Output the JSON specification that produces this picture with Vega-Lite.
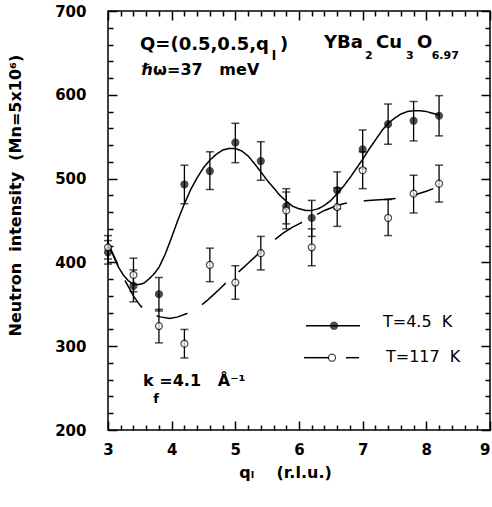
{
  "$schema": "https://vega.github.io/schema/vega-lite/v6.json",
  "width": 382,
  "height": 419,
  "autosize": {"type": "none"},
  "padding": {"left": 108, "top": 11, "right": 2, "bottom": 77},
  "background": "white",
  "config": {
    "font": "DejaVu Sans",
    "view": {"stroke": "black", "strokeWidth": 1.5},
    "axis": {"grid": false, "domain": false, "labelColor": "black", "tickColor": "black", "titleColor": "black"}
  },
  "datasets": {
    "pts": [
      {"q": 3.0, "I": 412, "lo": 398, "hi": 426, "T": "T=4.5 K"},
      {"q": 3.4, "I": 372, "lo": 353, "hi": 391, "T": "T=4.5 K"},
      {"q": 3.8, "I": 362, "lo": 342, "hi": 382, "T": "T=4.5 K"},
      {"q": 4.2, "I": 493, "lo": 470, "hi": 516, "T": "T=4.5 K"},
      {"q": 4.6, "I": 509, "lo": 487, "hi": 532, "T": "T=4.5 K"},
      {"q": 5.0, "I": 543, "lo": 519, "hi": 566, "T": "T=4.5 K"},
      {"q": 5.4, "I": 521, "lo": 498, "hi": 544, "T": "T=4.5 K"},
      {"q": 5.8, "I": 467, "lo": 446, "hi": 488, "T": "T=4.5 K"},
      {"q": 6.2, "I": 453, "lo": 431, "hi": 474, "T": "T=4.5 K"},
      {"q": 6.6, "I": 486, "lo": 464, "hi": 508, "T": "T=4.5 K"},
      {"q": 7.0, "I": 535, "lo": 512, "hi": 558, "T": "T=4.5 K"},
      {"q": 7.4, "I": 565, "lo": 541, "hi": 589, "T": "T=4.5 K"},
      {"q": 7.8, "I": 569, "lo": 545, "hi": 592, "T": "T=4.5 K"},
      {"q": 8.2, "I": 575, "lo": 551, "hi": 599, "T": "T=4.5 K"},
      {"q": 3.0, "I": 418, "lo": 404, "hi": 432, "T": "T=117 K"},
      {"q": 3.4, "I": 385, "lo": 365, "hi": 405, "T": "T=117 K"},
      {"q": 3.8, "I": 324, "lo": 304, "hi": 344, "T": "T=117 K"},
      {"q": 4.2, "I": 303, "lo": 286, "hi": 320, "T": "T=117 K"},
      {"q": 4.6, "I": 397, "lo": 377, "hi": 417, "T": "T=117 K"},
      {"q": 5.0, "I": 376, "lo": 356, "hi": 396, "T": "T=117 K"},
      {"q": 5.4, "I": 411, "lo": 391, "hi": 431, "T": "T=117 K"},
      {"q": 5.8, "I": 462, "lo": 440, "hi": 484, "T": "T=117 K"},
      {"q": 6.2, "I": 418, "lo": 396, "hi": 440, "T": "T=117 K"},
      {"q": 6.6, "I": 466, "lo": 443, "hi": 489, "T": "T=117 K"},
      {"q": 7.0, "I": 510, "lo": 488, "hi": 532, "T": "T=117 K"},
      {"q": 7.4, "I": 453, "lo": 432, "hi": 475, "T": "T=117 K"},
      {"q": 7.8, "I": 482, "lo": 459, "hi": 504, "T": "T=117 K"},
      {"q": 8.2, "I": 494, "lo": 472, "hi": 516, "T": "T=117 K"}
    ],
    "curve": [
      {"q": 3.0, "I": 422, "T": "T=4.5 K"},
      {"q": 3.05, "I": 414, "T": "T=4.5 K"},
      {"q": 3.1, "I": 405, "T": "T=4.5 K"},
      {"q": 3.16, "I": 395, "T": "T=4.5 K"},
      {"q": 3.24, "I": 385, "T": "T=4.5 K"},
      {"q": 3.32, "I": 378, "T": "T=4.5 K"},
      {"q": 3.4, "I": 374, "T": "T=4.5 K"},
      {"q": 3.48, "I": 373.5, "T": "T=4.5 K"},
      {"q": 3.56, "I": 375, "T": "T=4.5 K"},
      {"q": 3.64, "I": 380, "T": "T=4.5 K"},
      {"q": 3.72, "I": 386, "T": "T=4.5 K"},
      {"q": 3.8, "I": 394, "T": "T=4.5 K"},
      {"q": 3.9, "I": 410, "T": "T=4.5 K"},
      {"q": 4.0, "I": 430, "T": "T=4.5 K"},
      {"q": 4.1, "I": 451, "T": "T=4.5 K"},
      {"q": 4.2, "I": 470, "T": "T=4.5 K"},
      {"q": 4.3, "I": 487, "T": "T=4.5 K"},
      {"q": 4.4, "I": 501, "T": "T=4.5 K"},
      {"q": 4.5, "I": 513, "T": "T=4.5 K"},
      {"q": 4.6, "I": 522, "T": "T=4.5 K"},
      {"q": 4.7, "I": 529, "T": "T=4.5 K"},
      {"q": 4.8, "I": 534, "T": "T=4.5 K"},
      {"q": 4.9, "I": 536, "T": "T=4.5 K"},
      {"q": 5.0, "I": 536, "T": "T=4.5 K"},
      {"q": 5.1, "I": 533, "T": "T=4.5 K"},
      {"q": 5.2, "I": 527, "T": "T=4.5 K"},
      {"q": 5.3, "I": 518, "T": "T=4.5 K"},
      {"q": 5.4, "I": 508, "T": "T=4.5 K"},
      {"q": 5.5, "I": 498, "T": "T=4.5 K"},
      {"q": 5.6, "I": 489, "T": "T=4.5 K"},
      {"q": 5.7, "I": 480, "T": "T=4.5 K"},
      {"q": 5.8, "I": 473, "T": "T=4.5 K"},
      {"q": 5.9, "I": 467, "T": "T=4.5 K"},
      {"q": 6.0, "I": 464, "T": "T=4.5 K"},
      {"q": 6.1, "I": 462, "T": "T=4.5 K"},
      {"q": 6.2, "I": 462, "T": "T=4.5 K"},
      {"q": 6.3, "I": 464, "T": "T=4.5 K"},
      {"q": 6.4, "I": 468, "T": "T=4.5 K"},
      {"q": 6.5, "I": 474, "T": "T=4.5 K"},
      {"q": 6.6, "I": 482, "T": "T=4.5 K"},
      {"q": 6.7, "I": 491, "T": "T=4.5 K"},
      {"q": 6.8, "I": 501, "T": "T=4.5 K"},
      {"q": 6.9, "I": 512, "T": "T=4.5 K"},
      {"q": 7.0, "I": 523, "T": "T=4.5 K"},
      {"q": 7.1, "I": 535, "T": "T=4.5 K"},
      {"q": 7.2, "I": 546, "T": "T=4.5 K"},
      {"q": 7.3, "I": 557, "T": "T=4.5 K"},
      {"q": 7.4, "I": 566, "T": "T=4.5 K"},
      {"q": 7.5, "I": 572, "T": "T=4.5 K"},
      {"q": 7.6, "I": 577, "T": "T=4.5 K"},
      {"q": 7.7, "I": 580, "T": "T=4.5 K"},
      {"q": 7.8, "I": 581, "T": "T=4.5 K"},
      {"q": 7.9, "I": 581, "T": "T=4.5 K"},
      {"q": 8.0, "I": 580, "T": "T=4.5 K"},
      {"q": 8.1, "I": 578, "T": "T=4.5 K"},
      {"q": 8.2, "I": 576, "T": "T=4.5 K"},
      {"q": 3.0, "I": 423, "T": "T=117 K"},
      {"q": 3.08, "I": 410, "T": "T=117 K"},
      {"q": 3.15, "I": 398, "T": "T=117 K"},
      {"q": 3.27, "I": 378, "T": "T=117 K"},
      {"q": 3.4, "I": 360, "T": "T=117 K"},
      {"q": 3.5, "I": 349, "T": "T=117 K"},
      {"q": 3.58, "I": 343, "T": "T=117 K"},
      {"q": 3.7, "I": 338, "T": "T=117 K"},
      {"q": 3.82, "I": 335, "T": "T=117 K"},
      {"q": 3.97, "I": 333, "T": "T=117 K"},
      {"q": 4.1, "I": 335, "T": "T=117 K"},
      {"q": 4.24, "I": 339, "T": "T=117 K"},
      {"q": 4.35, "I": 343, "T": "T=117 K"},
      {"q": 4.45, "I": 348, "T": "T=117 K"},
      {"q": 4.55, "I": 354, "T": "T=117 K"},
      {"q": 4.65, "I": 361, "T": "T=117 K"},
      {"q": 4.75, "I": 368, "T": "T=117 K"},
      {"q": 4.86, "I": 376, "T": "T=117 K"},
      {"q": 5.0, "I": 385, "T": "T=117 K"},
      {"q": 5.1, "I": 392, "T": "T=117 K"},
      {"q": 5.2, "I": 399, "T": "T=117 K"},
      {"q": 5.3, "I": 406, "T": "T=117 K"},
      {"q": 5.4, "I": 413, "T": "T=117 K"},
      {"q": 5.49, "I": 419, "T": "T=117 K"},
      {"q": 5.6, "I": 426, "T": "T=117 K"},
      {"q": 5.75, "I": 435, "T": "T=117 K"},
      {"q": 5.9, "I": 442, "T": "T=117 K"},
      {"q": 6.0, "I": 446, "T": "T=117 K"},
      {"q": 6.1, "I": 450, "T": "T=117 K"},
      {"q": 6.2, "I": 454, "T": "T=117 K"},
      {"q": 6.3, "I": 458, "T": "T=117 K"},
      {"q": 6.4, "I": 462, "T": "T=117 K"},
      {"q": 6.5, "I": 465, "T": "T=117 K"},
      {"q": 6.6, "I": 468, "T": "T=117 K"},
      {"q": 6.7, "I": 470, "T": "T=117 K"},
      {"q": 6.8, "I": 471.5, "T": "T=117 K"},
      {"q": 6.9, "I": 472.5, "T": "T=117 K"},
      {"q": 7.04, "I": 473.5, "T": "T=117 K"},
      {"q": 7.2, "I": 474.5, "T": "T=117 K"},
      {"q": 7.4, "I": 475.5, "T": "T=117 K"},
      {"q": 7.55, "I": 476.5, "T": "T=117 K"},
      {"q": 7.69, "I": 478, "T": "T=117 K"},
      {"q": 7.8, "I": 480, "T": "T=117 K"},
      {"q": 7.9, "I": 482.5, "T": "T=117 K"},
      {"q": 8.0, "I": 485, "T": "T=117 K"},
      {"q": 8.11, "I": 488, "T": "T=117 K"}
    ],
    "keyLines": [
      {"q": 6.11, "q2": 6.958, "I": 324.5, "T": "T=4.5 K"},
      {"q": 6.079, "q2": 6.471, "I": 286.3, "T": "T=117 K"},
      {"q": 6.738, "q2": 6.942, "I": 286.3, "T": "T=117 K"}
    ],
    "keyPts": [
      {"q": 6.55, "I": 324.5, "T": "T=4.5 K"},
      {"q": 6.518, "I": 286.3, "T": "T=117 K"}
    ],
    "keyText": [
      {"q": 7.319, "I": 322.6, "text": "T=4.5\u00a0\u00a0K"},
      {"q": 7.366, "I": 281.5, "text": "T=117\u00a0\u00a0K"}
    ],
    "big": [
      {"q": 3.503, "I": 653.5, "text": "Q=(0.5,0.5,q"},
      {"q": 5.702, "I": 653.5, "text": ")"},
      {"q": 6.393, "I": 656.2, "text": "YBa"},
      {"q": 7.209, "I": 656.2, "text": "Cu"},
      {"q": 7.853, "I": 656.2, "text": "O"}
    ],
    "mid": [
      {"q": 3.529, "I": 623.6, "text": "ℏω=37\u00a0\u00a0\u00a0meV"},
      {"q": 3.55, "I": 252.5, "text": "k"},
      {"q": 3.806, "I": 252.5, "text": "=4.1\u00a0\u00a0\u00a0Å⁻¹"}
    ],
    "subl": [
      {"q": 5.571, "I": 641.5, "text": "l"},
      {"q": 3.712, "I": 232.6, "text": "f"}
    ],
    "subd": [
      {"q": 7.037, "I": 642.4, "text": "2"},
      {"q": 7.681, "I": 642.4, "text": "3"},
      {"q": 8.084, "I": 642.4, "text": "6.97"}
    ]
  },
  "layer": [
    {
      "data": {"name": "curve"},
      "mark": {"type": "line", "color": "black", "strokeWidth": 1.5, "strokeDashOffset": 8},
      "encoding": {
        "x": {"field": "q", "type": "quantitative", "scale": {"domain": [3, 9], "nice": false, "zero": false},
          "axis": {"orient": "bottom", "values": [3, 4, 5, 6, 7, 8, 9], "ticks": true, "tickSize": 0, "tickOpacity": 0, "labelFlush": false, "labelOverlap": false,
            "labelAlign": {"condition": {"test": "datum.value >= 9", "value": "right"}, "value": "center"},
            "labelFont": "DejaVu Sans", "labelFontWeight": "bold", "labelFontSize": 15, "labelPadding": 12,
            "title": "qₗ\u00a0\u00a0\u00a0\u00a0(r.l.u.)", "titleFont": "DejaVu Sans", "titleFontWeight": "bold", "titleFontSize": 16,
            "titleX": 177, "titleY": 47, "titleAlign": "center", "titleBaseline": "alphabetic"}},
        "y": {"field": "I", "type": "quantitative", "scale": {"domain": [200, 700], "nice": false, "zero": false},
          "axis": {"orient": "left", "values": [200, 300, 400, 500, 600, 700], "ticks": true, "tickSize": 0, "tickOpacity": 0, "labelFlush": false, "labelOverlap": false,
            "labelAlign": "right", "labelBaseline": "middle",
            "labelFont": "DejaVu Sans", "labelFontWeight": "bold", "labelFontSize": 15, "labelPadding": 22,
            "title": "Neutron\u00a0\u00a0intensity\u00a0\u00a0(Mn=5x10⁶)", "titleFont": "DejaVu Sans", "titleFontWeight": "bold", "titleFontSize": 16,
            "titleX": -88, "titleY": 184, "titleAngle": -90, "titleAlign": "center", "titleBaseline": "alphabetic"}},
        "strokeDash": {"field": "T", "type": "nominal", "scale": {"domain": ["T=117 K", "T=4.5 K"], "range": [[32, 17], [1, 0]]}, "legend": null}
      }
    },
    {
      "data": {"name": "pts"},
      "mark": {"type": "rule", "color": "black", "strokeWidth": 1.3},
      "encoding": {
        "x": {"field": "q", "type": "quantitative",
          "axis": {"orient": "bottom", "values": [3, 4, 5, 6, 7, 8, 9], "labels": false, "tickSize": -9, "tickWidth": 1.5, "title": null}},
        "y": {"field": "lo", "type": "quantitative",
          "axis": {"orient": "left", "values": [200, 300, 400, 500, 600, 700], "labels": false, "tickSize": -9, "tickWidth": 1.5, "title": null}},
        "y2": {"field": "hi"}
      }
    },
    {
      "data": {"name": "pts"},
      "mark": {"type": "tick", "orient": "horizontal", "color": "black", "size": 8, "thickness": 1.5},
      "encoding": {
        "x": {"field": "q", "type": "quantitative",
          "axis": {"orient": "bottom", "values": [3.2, 3.4, 3.6, 3.8, 4.2, 4.4, 4.6, 4.8, 5.2, 5.4, 5.6, 5.8, 6.2, 6.4, 6.6, 6.8, 7.2, 7.4, 7.6, 7.8, 8.2, 8.4, 8.6, 8.8], "labels": false, "tickSize": -5, "tickWidth": 1.5, "title": null}},
        "y": {"field": "lo", "type": "quantitative",
          "axis": {"orient": "left", "values": [220, 240, 260, 280, 320, 340, 360, 380, 420, 440, 460, 480, 520, 540, 560, 580, 620, 640, 660, 680], "labels": false, "tickSize": -5, "tickWidth": 1.5, "title": null}}
      }
    },
    {
      "data": {"name": "pts"},
      "mark": {"type": "tick", "orient": "horizontal", "color": "black", "size": 8, "thickness": 1.5},
      "encoding": {
        "x": {"field": "q", "type": "quantitative",
          "axis": {"orient": "top", "values": [3, 4, 5, 6, 7, 8, 9], "labels": false, "tickSize": -9, "tickWidth": 1.5, "title": null}},
        "y": {"field": "hi", "type": "quantitative",
          "axis": {"orient": "right", "values": [200, 300, 400, 500, 600, 700], "labels": false, "tickSize": -9, "tickWidth": 1.5, "title": null}}
      }
    },
    {
      "data": {"name": "pts"},
      "mark": {"type": "point", "shape": "circle", "filled": true, "size": 48, "stroke": "black", "strokeWidth": 1.2},
      "encoding": {
        "x": {"field": "q", "type": "quantitative",
          "axis": {"orient": "top", "values": [3.2, 3.4, 3.6, 3.8, 4.2, 4.4, 4.6, 4.8, 5.2, 5.4, 5.6, 5.8, 6.2, 6.4, 6.6, 6.8, 7.2, 7.4, 7.6, 7.8, 8.2, 8.4, 8.6, 8.8], "labels": false, "tickSize": -5, "tickWidth": 1.5, "title": null}},
        "y": {"field": "I", "type": "quantitative",
          "axis": {"orient": "right", "values": [220, 240, 260, 280, 320, 340, 360, 380, 420, 440, 460, 480, 520, 540, 560, 580, 620, 640, 660, 680], "labels": false, "tickSize": -5, "tickWidth": 1.5, "title": null}},
        "fill": {"field": "T", "type": "nominal", "scale": {"domain": ["T=117 K", "T=4.5 K"], "range": ["white", "black"]}, "legend": null}
      }
    },
    {
      "data": {"name": "keyLines"},
      "mark": {"type": "rule", "color": "black", "strokeWidth": 1.5},
      "encoding": {
        "x": {"field": "q", "type": "quantitative", "axis": null},
        "x2": {"field": "q2"},
        "y": {"field": "I", "type": "quantitative", "axis": null}
      }
    },
    {
      "data": {"name": "keyPts"},
      "mark": {"type": "point", "shape": "circle", "filled": true, "size": 50, "stroke": "black", "strokeWidth": 1.3},
      "encoding": {
        "x": {"field": "q", "type": "quantitative", "axis": null},
        "y": {"field": "I", "type": "quantitative", "axis": null},
        "fill": {"field": "T", "type": "nominal", "legend": null}
      }
    },
    {
      "data": {"name": "keyText"},
      "mark": {"type": "text", "align": "left", "baseline": "alphabetic", "font": "DejaVu Sans", "fontWeight": "normal", "fontSize": 16, "color": "black"},
      "encoding": {
        "x": {"field": "q", "type": "quantitative", "axis": null},
        "y": {"field": "I", "type": "quantitative", "axis": null},
        "text": {"field": "text"}
      }
    },
    {
      "data": {"name": "big"},
      "mark": {"type": "text", "align": "left", "baseline": "alphabetic", "font": "DejaVu Sans", "fontWeight": "bold", "fontSize": 18, "color": "black"},
      "encoding": {
        "x": {"field": "q", "type": "quantitative", "axis": null},
        "y": {"field": "I", "type": "quantitative", "axis": null},
        "text": {"field": "text"}
      }
    },
    {
      "data": {"name": "mid"},
      "mark": {"type": "text", "align": "left", "baseline": "alphabetic", "font": "DejaVu Sans", "fontWeight": "bold", "fontSize": 16, "color": "black"},
      "encoding": {
        "x": {"field": "q", "type": "quantitative", "axis": null},
        "y": {"field": "I", "type": "quantitative", "axis": null},
        "text": {"field": "text"}
      }
    },
    {
      "data": {"name": "subl"},
      "mark": {"type": "text", "align": "left", "baseline": "alphabetic", "font": "DejaVu Sans", "fontWeight": "bold", "fontSize": 13, "color": "black"},
      "encoding": {
        "x": {"field": "q", "type": "quantitative", "axis": null},
        "y": {"field": "I", "type": "quantitative", "axis": null},
        "text": {"field": "text"}
      }
    },
    {
      "data": {"name": "subd"},
      "mark": {"type": "text", "align": "left", "baseline": "alphabetic", "font": "DejaVu Sans", "fontWeight": "bold", "fontSize": 11, "color": "black"},
      "encoding": {
        "x": {"field": "q", "type": "quantitative", "axis": null},
        "y": {"field": "I", "type": "quantitative", "axis": null},
        "text": {"field": "text"}
      }
    }
  ],
  "resolve": {"axis": {"x": "independent", "y": "independent"}}
}
